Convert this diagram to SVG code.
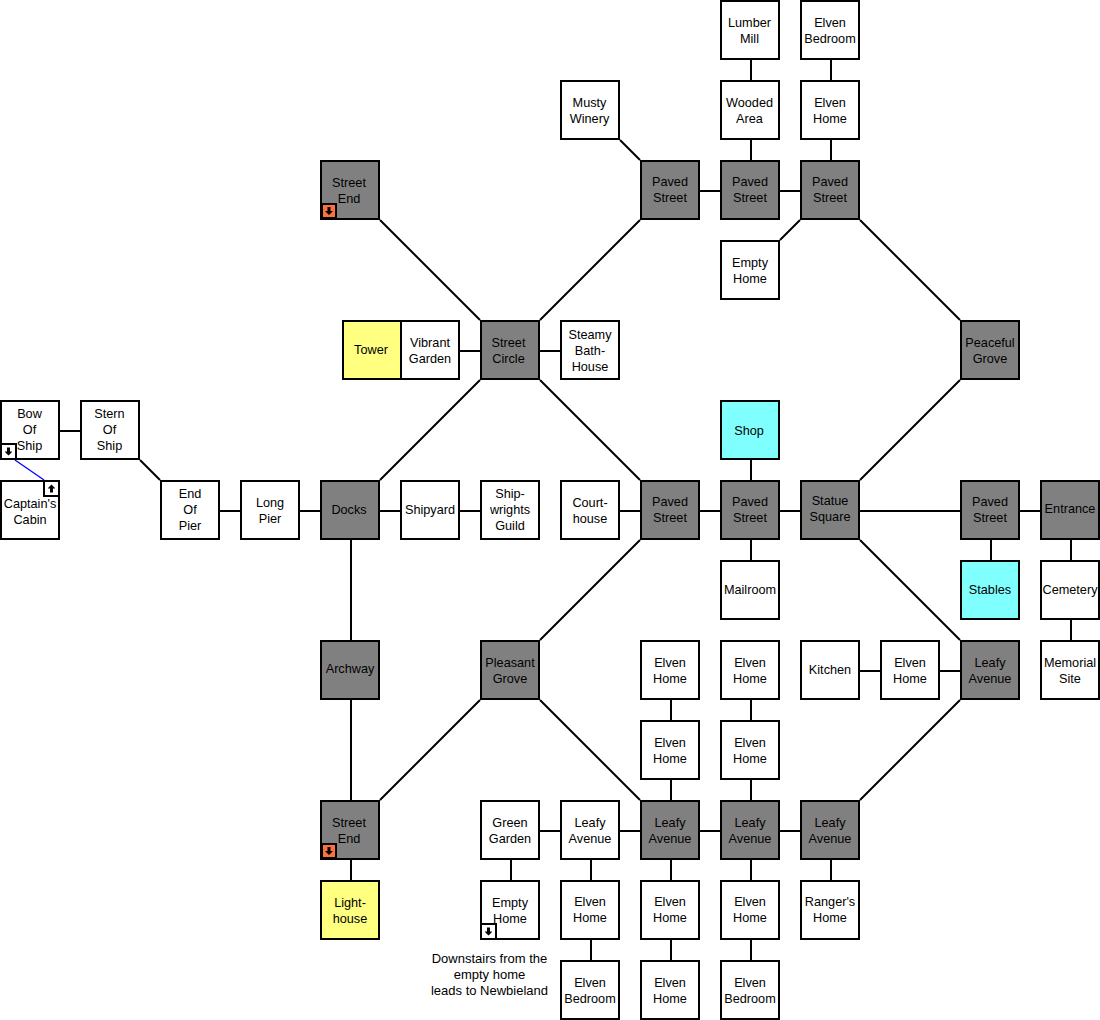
<svg xmlns="http://www.w3.org/2000/svg" xmlns:xlink="http://www.w3.org/1999/xlink" width="1100" height="1020" viewBox="0 0 1100 1020">
<style>
text{font-family:"Liberation Sans",Arial,sans-serif;font-size:12.7px;fill:#000;text-anchor:middle}
.n{fill:#fff;stroke:#000;stroke-width:2}
.g{fill:#808080;stroke:#000;stroke-width:2}
.y{fill:#ffff80;stroke:#000;stroke-width:2}
.c{fill:#80ffff;stroke:#000;stroke-width:2}
.s{fill:#fff;stroke:#000;stroke-width:2}
.o{fill:#ff7040;stroke:#000;stroke-width:2}
#conn path{fill:none;stroke:#000;stroke-width:2}
#note text{font-size:13px}
</style>
<defs>
<path id="dn" d="M-1.500 -4H1.500V0H3.500V0.500L0 4L-3.500 0.500V0H-1.500Z" fill="#000"/>
<path id="up" d="M-1.500 4H1.500V0H3.500V-0.500L0 -4L-3.500 -0.500V0H-1.500Z" fill="#000"/>
</defs>
<g id="conn">
<path d="M751 60V80M831 60V80M751 140V160M831 140V160"/>
<path d="M620 140L640 160M700 191H720M780 191H800M800 220L780 240"/>
<path d="M380 220L480 320M640 220L540 320M860 220L960 320M960 380L860 480"/>
<path d="M460 351H480M540 351H560"/>
<path d="M480 380L380 480M540 380L640 480"/>
<path d="M60 431H80M140 460L160 480"/>
<path d="M220 511H240M300 511H320M380 511H400M460 511H480M620 511H640M700 511H720M780 511H800M860 511H960M1020 511H1040"/>
<path d="M751 460V480M751 540V560M991 540V560M1071 540V560M1071 620V640"/>
<path d="M351 540V640M351 700V800M351 860V880"/>
<path d="M640 540L540 640M860 540L960 640"/>
<path d="M860 671H880M940 671H960"/>
<path d="M671 700V720M751 700V720M671 780V800M751 780V800"/>
<path d="M480 700L380 800M540 700L640 800M960 700L860 800"/>
<path d="M540 831H560M620 831H640M700 831H720M780 831H800"/>
<path d="M591 860V880M671 860V880M751 860V880M831 860V880M511 860V880M591 940V960M671 940V960M751 940V960"/>
<path d="M15 460L44 480" style="stroke:#0000ff;stroke-width:1.300"/>
</g>
<g id="n1"><rect class="n" x="721" y="1" width="58" height="58"/><text x="749.500" y="27">Lumber</text><text x="749.500" y="43">Mill</text></g>
<g id="n2"><rect class="n" x="801" y="1" width="58" height="58"/><text x="830" y="27">Elven</text><text x="830" y="43">Bedroom</text></g>
<g id="n3"><rect class="n" x="561" y="81" width="58" height="58"/><text x="589.500" y="107">Musty</text><text x="589.500" y="123">Winery</text></g>
<g id="n4"><rect class="n" x="721" y="81" width="58" height="58"/><text x="749.500" y="107">Wooded</text><text x="749.500" y="123">Area</text></g>
<g id="n5"><rect class="n" x="801" y="81" width="58" height="58"/><text x="830" y="107">Elven</text><text x="830" y="123">Home</text></g>
<g id="n6"><rect class="g" x="321" y="161" width="58" height="58"/><text x="349" y="187">Street</text><text x="349" y="203">End</text><rect class="o" x="322" y="204" width="14" height="14"/><use xlink:href="#dn" href="#dn" x="329" y="211"/></g>
<g id="n7"><rect class="g" x="641" y="161" width="58" height="58"/><text x="670" y="186">Paved</text><text x="670" y="202">Street</text></g>
<g id="n8"><rect class="g" x="721" y="161" width="58" height="58"/><text x="750" y="186">Paved</text><text x="750" y="202">Street</text></g>
<g id="n9"><rect class="g" x="801" y="161" width="58" height="58"/><text x="830" y="186">Paved</text><text x="830" y="202">Street</text></g>
<g id="n10"><rect class="n" x="721" y="241" width="58" height="58"/><text x="750" y="267">Empty</text><text x="750" y="283">Home</text></g>
<g id="n11"><rect class="y" x="343" y="321" width="58" height="58"/><text x="371" y="354">Tower</text></g>
<g id="n12"><rect class="n" x="401" y="321" width="58" height="58"/><text x="430" y="347">Vibrant</text><text x="430" y="363">Garden</text></g>
<g id="n13"><rect class="g" x="481" y="321" width="58" height="58"/><text x="508.500" y="347">Street</text><text x="508.500" y="363">Circle</text></g>
<g id="n14"><rect class="n" x="561" y="321" width="58" height="58"/><text x="590" y="339">Steamy</text><text x="590" y="355">Bath-</text><text x="590" y="371">House</text></g>
<g id="n15"><rect class="g" x="961" y="321" width="58" height="58"/><text x="990" y="347">Peaceful</text><text x="990" y="363">Grove</text></g>
<g id="n16"><rect class="n" x="1" y="401" width="58" height="58"/><text x="29.500" y="418">Bow</text><text x="29.500" y="434">Of</text><text x="29.500" y="450">Ship</text><rect class="s" x="1" y="444" width="15" height="15"/><use xlink:href="#dn" href="#dn" x="8.500" y="451.500"/></g>
<g id="n17"><rect class="n" x="81" y="401" width="58" height="58"/><text x="109.500" y="418">Stern</text><text x="109.500" y="434">Of</text><text x="109.500" y="450">Ship</text></g>
<g id="n18"><rect class="c" x="721" y="401" width="58" height="58"/><text x="749" y="435">Shop</text></g>
<g id="n19"><rect class="n" x="1" y="481" width="58" height="58"/><text x="30" y="508">Captain's</text><text x="30" y="524">Cabin</text><rect class="s" x="44" y="481" width="15" height="15"/><use xlink:href="#up" href="#up" x="51.500" y="488.500"/></g>
<g id="n20"><rect class="n" x="161" y="481" width="58" height="58"/><text x="190" y="498">End</text><text x="190" y="514">Of</text><text x="190" y="530">Pier</text></g>
<g id="n21"><rect class="n" x="241" y="481" width="58" height="58"/><text x="270" y="507">Long</text><text x="270" y="523">Pier</text></g>
<g id="n22"><rect class="g" x="321" y="481" width="58" height="58"/><text x="349" y="514">Docks</text></g>
<g id="n23"><rect class="n" x="401" y="481" width="58" height="58"/><text x="430" y="514">Shipyard</text></g>
<g id="n24"><rect class="n" x="481" y="481" width="58" height="58"/><text x="510" y="498">Ship-</text><text x="510" y="514">wrights</text><text x="510" y="530">Guild</text></g>
<g id="n25"><rect class="n" x="561" y="481" width="58" height="58"/><text x="590" y="507">Court-</text><text x="590" y="523">house</text></g>
<g id="n26"><rect class="g" x="641" y="481" width="58" height="58"/><text x="670" y="506">Paved</text><text x="670" y="522">Street</text></g>
<g id="n27"><rect class="g" x="721" y="481" width="58" height="58"/><text x="750" y="506">Paved</text><text x="750" y="522">Street</text></g>
<g id="n28"><rect class="g" x="801" y="481" width="58" height="58"/><text x="830" y="505">Statue</text><text x="830" y="521">Square</text></g>
<g id="n29"><rect class="g" x="961" y="481" width="58" height="58"/><text x="990" y="506">Paved</text><text x="990" y="522">Street</text></g>
<g id="n30"><rect class="g" x="1041" y="481" width="58" height="58"/><text x="1070" y="513">Entrance</text></g>
<g id="n31"><rect class="n" x="721" y="561" width="58" height="58"/><text x="750" y="594">Mailroom</text></g>
<g id="n32"><rect class="c" x="961" y="561" width="58" height="58"/><text x="990" y="594">Stables</text></g>
<g id="n33"><rect class="n" x="1041" y="561" width="58" height="58"/><text x="1070" y="594">Cemetery</text></g>
<g id="n34"><rect class="g" x="321" y="641" width="58" height="58"/><text x="350" y="673">Archway</text></g>
<g id="n35"><rect class="g" x="481" y="641" width="58" height="58"/><text x="510" y="667">Pleasant</text><text x="510" y="683">Grove</text></g>
<g id="n36"><rect class="n" x="641" y="641" width="58" height="58"/><text x="670" y="667">Elven</text><text x="670" y="683">Home</text></g>
<g id="n37"><rect class="n" x="721" y="641" width="58" height="58"/><text x="750" y="667">Elven</text><text x="750" y="683">Home</text></g>
<g id="n38"><rect class="n" x="801" y="641" width="58" height="58"/><text x="830" y="674">Kitchen</text></g>
<g id="n39"><rect class="n" x="881" y="641" width="58" height="58"/><text x="910" y="667">Elven</text><text x="910" y="683">Home</text></g>
<g id="n40"><rect class="g" x="961" y="641" width="58" height="58"/><text x="990" y="667">Leafy</text><text x="990" y="683">Avenue</text></g>
<g id="n41"><rect class="n" x="1041" y="641" width="58" height="58"/><text x="1070" y="667">Memorial</text><text x="1070" y="683">Site</text></g>
<g id="n42"><rect class="n" x="641" y="721" width="58" height="58"/><text x="670" y="747">Elven</text><text x="670" y="763">Home</text></g>
<g id="n43"><rect class="n" x="721" y="721" width="58" height="58"/><text x="750" y="747">Elven</text><text x="750" y="763">Home</text></g>
<g id="n44"><rect class="g" x="321" y="801" width="58" height="58"/><text x="349" y="827">Street</text><text x="349" y="843">End</text><rect class="o" x="322" y="844" width="14" height="14"/><use xlink:href="#dn" href="#dn" x="329" y="851"/></g>
<g id="n45"><rect class="n" x="481" y="801" width="58" height="58"/><text x="510" y="827">Green</text><text x="510" y="843">Garden</text></g>
<g id="n46"><rect class="n" x="561" y="801" width="58" height="58"/><text x="590" y="827">Leafy</text><text x="590" y="843">Avenue</text></g>
<g id="n47"><rect class="g" x="641" y="801" width="58" height="58"/><text x="670" y="827">Leafy</text><text x="670" y="843">Avenue</text></g>
<g id="n48"><rect class="g" x="721" y="801" width="58" height="58"/><text x="750" y="827">Leafy</text><text x="750" y="843">Avenue</text></g>
<g id="n49"><rect class="g" x="801" y="801" width="58" height="58"/><text x="830" y="827">Leafy</text><text x="830" y="843">Avenue</text></g>
<g id="n50"><rect class="y" x="321" y="881" width="58" height="58"/><text x="350" y="907">Light-</text><text x="350" y="923">house</text></g>
<g id="n51"><rect class="n" x="481" y="881" width="58" height="58"/><text x="510" y="907">Empty</text><text x="510" y="923">Home</text><rect class="s" x="481" y="924" width="15" height="15"/><use xlink:href="#dn" href="#dn" x="488.500" y="931.500"/></g>
<g id="n52"><rect class="n" x="561" y="881" width="58" height="58"/><text x="590" y="906">Elven</text><text x="590" y="922">Home</text></g>
<g id="n53"><rect class="n" x="641" y="881" width="58" height="58"/><text x="670" y="906">Elven</text><text x="670" y="922">Home</text></g>
<g id="n54"><rect class="n" x="721" y="881" width="58" height="58"/><text x="750" y="906">Elven</text><text x="750" y="922">Home</text></g>
<g id="n55"><rect class="n" x="801" y="881" width="58" height="58"/><text x="830" y="906">Ranger's</text><text x="830" y="922">Home</text></g>
<g id="n56"><rect class="n" x="561" y="961" width="58" height="58"/><text x="590" y="987">Elven</text><text x="590" y="1003">Bedroom</text></g>
<g id="n57"><rect class="n" x="641" y="961" width="58" height="58"/><text x="670" y="987">Elven</text><text x="670" y="1003">Home</text></g>
<g id="n58"><rect class="n" x="721" y="961" width="58" height="58"/><text x="750" y="987">Elven</text><text x="750" y="1003">Bedroom</text></g>
<g id="note"><text x="489.500" y="963">Downstairs from the</text><text x="489.500" y="979">empty home</text><text x="489.500" y="995">leads to Newbieland</text></g>
</svg>
